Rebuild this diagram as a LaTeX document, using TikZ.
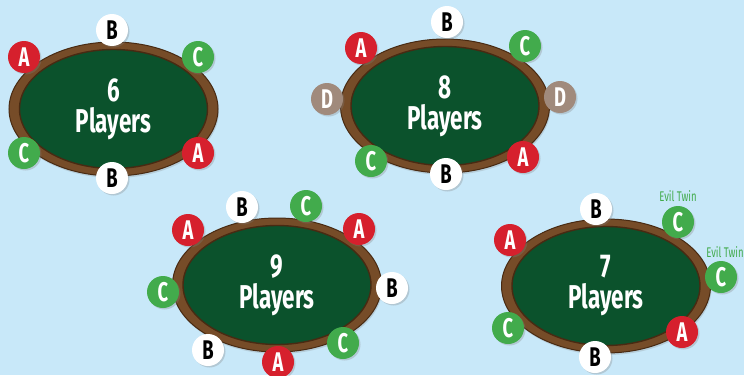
\documentclass[tikz,border=0pt]{standalone}
\usepackage{fontspec}
\setmainfont{Fira Sans}
\newfontfamily\narrowfont[FakeStretch=0.68]{Fira Sans}
\usetikzlibrary{positioning, shapes.geometric, shadows}
\definecolor{sky}{RGB}{200,232,249}
\definecolor{chipred}{RGB}{214,32,45}
\definecolor{chipgreen}{RGB}{66,171,76}
\definecolor{chiptaupe}{RGB}{160,138,124}
\definecolor{rimbrown}{RGB}{118,76,40}
\definecolor{rimdark}{RGB}{72,42,18}
\definecolor{felt}{RGB}{11,82,44}
\tikzstyle{chip}  = [circle, minimum size=32pt, inner sep=0pt,
                     font=\narrowfont\bfseries\fontsize{27}{27}\selectfont,
                     drop shadow={shadow xshift=1.5pt, shadow yshift=-1.5pt, opacity=0.3}]
\tikzstyle{chipA} = [chip, fill=chipred, text=white]
\tikzstyle{chipB} = [chip, fill=white, text=black]
\tikzstyle{chipC} = [chip, fill=chipgreen, text=white]
\tikzstyle{chipD} = [chip, fill=chiptaupe, text=white]

\begin{document}
\begin{tikzpicture}[x=1pt, y=-1pt,
    rim/.style={ellipse, minimum width=209pt, minimum height=134pt, fill=rimbrown,
                draw=rimdark, line width=1pt,
                drop shadow={shadow xshift=1pt, shadow yshift=-2pt, opacity=0.25}},
    felt/.style={ellipse, minimum width=188pt, minimum height=119pt, fill=felt,
                 draw=rimdark, line width=1.4pt, text=white, align=center,
                 font=\narrowfont\bfseries\fontsize{33}{31}\selectfont},
    twin/.style={text=chipgreen, inner sep=0pt, font=\narrowfont\fontsize{14}{14}\selectfont},
  ]
  \fill[sky] (0,0) rectangle (744,375);
  \useasboundingbox (0,0) rectangle (744,375);

  % 6 players
  \node[rim]  (t6rim) at (113.5,109) {};
  \node[felt] (t6) at (t6rim) {6\\Players};
  \node[chipB] (t6b1) at (112,30)  {B};
  \node[chipA] (t6a1) at (24,57)   {A};
  \node[chipC] (t6c1) at (198,57)  {C};
  \node[chipC] (t6c2) at (24,153)  {C};
  \node[chipA] (t6a2) at (198,153) {A};
  \node[chipB] (t6b2) at (112,178) {B};

  % 8 players
  \node[rim]  (t8rim) at (445,106) {};
  \node[felt] (t8) at (t8rim) {8\\Players};
  \node[chipB] (t8b1) at (447,22)  {B};
  \node[chipA] (t8a1) at (361,48)  {A};
  \node[chipC] (t8c1) at (525,46)  {C};
  \node[chipD] (t8d1) at (327,99)  {D};
  \node[chipD] (t8d2) at (560,97)  {D};
  \node[chipC] (t8c2) at (371,161) {C};
  \node[chipB] (t8b2) at (446,174) {B};
  \node[chipA] (t8a2) at (523,157) {A};

  % 9 players
  \node[rim]  (t9rim) at (277,285) {};
  \node[felt] (t9) at (t9rim) {9\\Players};
  \node[chipB] (t9b1) at (242,207) {B};
  \node[chipC] (t9c1) at (306,206) {C};
  \node[chipA] (t9a1) at (188,230) {A};
  \node[chipA] (t9a2) at (359,229) {A};
  \node[chipC] (t9c2) at (163,292) {C};
  \node[chipB] (t9b2) at (392,288) {B};
  \node[chipB] (t9b3) at (208,350) {B};
  \node[chipA] (t9a3) at (278,362) {A};
  \node[chipC] (t9c3) at (343,343) {C};

  % 7 players
  \node[rim]  (t7rim) at (606,286) {};
  \node[felt] (t7) at (t7rim) {7\\Players};
  \node[chipB] (t7b1) at (596,209) {B};
  \node[chipC] (t7c1) at (678,222) {C};
  \node[chipC] (t7c2) at (721,277) {C};
  \node[chipA] (t7a1) at (510,240) {A};
  \node[chipC] (t7c3) at (508,328) {C};
  \node[chipB] (t7b2) at (595,357) {B};
  \node[chipA] (t7a2) at (682,332) {A};
  \node[twin, above=4pt of t7c1] (t7tw1) {Evil Twin};
  \node[twin, above=3pt of t7c2, xshift=4pt] (t7tw2) {Evil Twin};
\end{tikzpicture}
\end{document}
